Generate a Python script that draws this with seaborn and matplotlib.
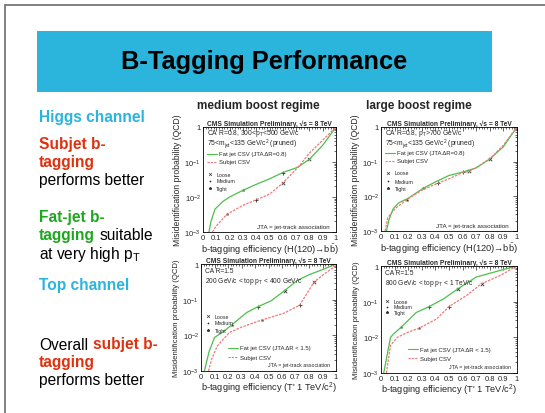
import numpy as np
import pandas as pd
import matplotlib
matplotlib.use("Agg")
import matplotlib.pyplot as plt
from matplotlib.lines import Line2D
import seaborn as sns

sns.set_style("white")
plt.rcParams['font.family'] = ['Liberation Sans', 'DejaVu Sans']
plt.rcParams['mathtext.fontset'] = 'custom'
plt.rcParams['mathtext.rm'] = 'Liberation Sans'
plt.rcParams['mathtext.it'] = 'Liberation Sans:italic'

# ---------------- data ----------------
# Panel 1: Higgs, medium boost
p1_fat_eff = [0.045, 0.06, 0.09, 0.15, 0.2, 0.3, 0.4, 0.5, 0.6, 0.7, 0.72, 0.8, 0.9, 1.0]
p1_fat_mis = [1e-3, 2.0e-3, 4.5e-3, 7.5e-3, 1.0e-2, 1.55e-2, 2.3e-2, 3.3e-2, 5e-2, 6.8e-2, 7.4e-2, 0.12, 0.3, 1.0]
p1_sub_eff = [0.07, 0.1, 0.18, 0.3, 0.4, 0.5, 0.6, 0.72, 0.8, 0.9, 1.0]
p1_sub_mis = [1e-3, 1.5e-3, 3.2e-3, 5.8e-3, 8.3e-3, 1.2e-2, 2.5e-2, 7.4e-2, 0.18, 0.42, 1.0]
p1_fat_wp = ([0.3, 0.6, 0.8], [1.55e-2, 5e-2, 0.12])
p1_sub_wp = ([0.18, 0.4, 0.6], [3.2e-3, 8.3e-3, 2.5e-2])

# Panel 2: Higgs, large boost
p2_fat_eff = [0.04, 0.06, 0.09, 0.13, 0.2, 0.31, 0.4, 0.5, 0.6, 0.7, 0.8, 0.9, 1.0]
p2_fat_mis = [1e-3, 2.2e-3, 4.4e-3, 6.5e-3, 8.8e-3, 1.7e-2, 2.6e-2, 4.0e-2, 5.0e-2, 6.6e-2, 0.12, 0.27, 1.0]
p2_sub_eff = [0.03, 0.05, 0.08, 0.12, 0.19, 0.3, 0.42, 0.5, 0.6, 0.65, 0.7, 0.8, 0.9, 1.0]
p2_sub_mis = [1e-3, 2.4e-3, 3.5e-3, 5.0e-3, 8e-3, 1.5e-2, 2.4e-2, 3.2e-2, 4.8e-2, 5.3e-2, 6.8e-2, 0.12, 0.3, 1.0]
p2_fat_wp = ([0.31, 0.6, 0.8], [1.7e-2, 5.0e-2, 0.12])
p2_sub_wp = ([0.19, 0.42, 0.65], [8e-3, 2.4e-2, 5.3e-2])

# Panel 3: top, 200-400 GeV
p3_fat_eff = [0.025, 0.06, 0.1, 0.17, 0.23, 0.34, 0.42, 0.52, 0.62, 0.71, 0.8, 0.88, 1.0]
p3_fat_mis = [1e-3, 3.5e-3, 8.7e-3, 1.3e-2, 2.0e-2, 4.4e-2, 6.3e-2, 9.3e-2, 0.18, 0.34, 0.5, 0.65, 1.0]
p3_sub_eff = [0.055, 0.08, 0.12, 0.21, 0.3, 0.45, 0.61, 0.73, 0.84, 0.92, 1.0]
p3_sub_mis = [1e-3, 2.2e-3, 5e-3, 1.2e-2, 1.7e-2, 2.7e-2, 4.1e-2, 7e-2, 0.32, 0.55, 0.9]
p3_fat_wp = ([0.23, 0.42, 0.62], [2.0e-2, 6.3e-2, 0.18])
p3_sub_wp = ([0.45, 0.73, 0.84], [2.7e-2, 7e-2, 0.32])

# Panel 4: top, 800 GeV - 1 TeV
p4_fat_eff = [0.02, 0.05, 0.07, 0.093, 0.147, 0.26, 0.355, 0.46, 0.566, 0.7, 0.88, 1.0]
p4_fat_mis = [1e-3, 4e-3, 1.0e-2, 1.25e-2, 1.9e-2, 5e-2, 7.3e-2, 0.12, 0.23, 0.49, 0.76, 1.0]
p4_sub_eff = [0.04, 0.07, 0.12, 0.2, 0.28, 0.41, 0.5, 0.63, 0.74, 0.88, 1.0]
p4_sub_mis = [1e-3, 6e-3, 1.0e-2, 1.4e-2, 1.8e-2, 3.3e-2, 7.3e-2, 0.15, 0.32, 0.55, 1.0]
p4_fat_wp = ([0.147, 0.355, 0.566], [1.9e-2, 7.3e-2, 0.23])
p4_sub_wp = ([0.28, 0.5, 0.74], [1.8e-2, 7.3e-2, 0.32])

x_ticks = [0, 0.1, 0.2, 0.3, 0.4, 0.5, 0.6, 0.7, 0.8, 0.9, 1]
x_tick_labels = ["0", "0.1", "0.2", "0.3", "0.4", "0.5", "0.6", "0.7", "0.8", "0.9", "1"]
y_ticks = [1e-3, 1e-2, 1e-1, 1]
y_tick_labels = ["$10^{-3}$", "$10^{-2}$", "$10^{-1}$", "1"]

GREEN = "#4cbf4c"
RED = "#f07878"
CYAN = "#2bb5dd"
TRED = "#e0300e"
TGREEN = "#1ea61e"

fig = plt.figure(figsize=(5.45, 4.14), dpi=100)
W, H = 545.0, 414.0

def rect(l, r, t, b):
    return [l / W, 1 - b / H, (r - l) / W, (b - t) / H]

# slide border
fig.add_artist(Line2D([4.5 / W, 4.5 / W], [0, 1 - 5.5 / H], color="#777777", lw=1.3))
fig.add_artist(Line2D([4.5 / W, 1], [1 - 5.5 / H, 1 - 5.5 / H], color="#777777", lw=1.3))

# banner
ban = fig.add_axes(rect(37, 492, 32, 93))
ban.set_facecolor(CYAN)
ban.set_xticks([]); ban.set_yticks([])
for s in ban.spines.values():
    s.set_visible(False)
ban.text(0.5, 0.5, "B-Tagging Performance", ha="center", va="center",
         fontsize=18.3, fontweight="bold", color="black", transform=ban.transAxes)

fig.text(258 / W, 1 - 106 / H, "medium boost regime", ha="center", va="center",
         fontsize=8.5, fontweight="bold")
fig.text(419 / W, 1 - 106 / H, "large boost regime", ha="center", va="center",
         fontsize=8.5, fontweight="bold")

# left text
fs = 11.2
def ftext(x, y, s, color="black", bold=False):
    return fig.text(x / W, 1 - y / H, s, ha="left", va="center", fontsize=fs,
                    color=color, fontweight="bold" if bold else "normal")

ftext(39, 118, "Higgs channel", CYAN, True)
ftext(39, 145, "Subjet b-", TRED, True)
ftext(39, 163, "tagging", TRED, True)
ftext(39, 181, "performs better")
ftext(39, 218, "Fat-jet b-", TGREEN, True)
ftext(39, 236, "tagging", TGREEN, True)
ftext(100, 236, "suitable")
ftext(39, 255, "at very high p$_\\mathregular{T}$")
ftext(39, 286, "Top channel", CYAN, True)
ftext(39, 345, "Overall", "black")
ftext(93, 345, "subjet b-", TRED, True)
ftext(39, 363, "tagging", TRED, True)
ftext(39, 381, "performs better")

HXL = "b-tagging efficiency (H(120)\u2192b$\\mathregular{\\bar{b}}$)"
TXL = "b-tagging efficiency (T' 1 TeV/c$^\\mathregular{2}$)"

panels = [
    dict(r=rect(203, 336, 128, 233), fat=(p1_fat_eff, p1_fat_mis), sub=(p1_sub_eff, p1_sub_mis),
         fwp=p1_fat_wp, swp=p1_sub_wp,
         info=["CA R=0.8, 300<p$_\\mathregular{T}$<500 GeV/c", "75<m$_\\mathregular{jet}$<135 GeV/c$^\\mathregular{2}$ (pruned)"],
         fatlab="Fat jet CSV (JTA \u0394R=0.8)", xl=HXL, fs_info=4.9, fs_leg=4.3, fs_jta=4.5,
         info_y=[0.945, 0.84], leg_y=[0.745, 0.67], leg_x=0.03, wp_y=[0.552, 0.486, 0.419],
         wp_x=0.05, jta=(0.95, 0.05), ylfs=6.2),
    dict(r=rect(381, 517, 128, 232), fat=(p2_fat_eff, p2_fat_mis), sub=(p2_sub_eff, p2_sub_mis),
         fwp=p2_fat_wp, swp=p2_sub_wp,
         info=["CA R=0.8, p$_\\mathregular{T}$>700 GeV/c", "75<m$_\\mathregular{jet}$<135 GeV/c$^\\mathregular{2}$ (pruned)"],
         fatlab="Fat jet CSV (JTA \u0394R=0.8)", xl=HXL, fs_info=4.9, fs_leg=4.3, fs_jta=4.5,
         info_y=[0.945, 0.84], leg_y=[0.75, 0.675], leg_x=0.03, wp_y=[0.56, 0.48, 0.41],
         wp_x=0.05, jta=(0.94, 0.05), ylfs=6.2),
    dict(r=rect(201, 336, 265, 372), fat=(p3_fat_eff, p3_fat_mis), sub=(p3_sub_eff, p3_sub_mis),
         fwp=p3_fat_wp, swp=p3_sub_wp,
         info=["CA R=1.5", "200 GeV/c < top p$_\\mathregular{T}$ < 400 GeV/c"],
         fatlab="Fat jet CSV (JTA \u0394R < 1.5)", xl=TXL, fs_info=4.8, fs_leg=4.3, fs_jta=3.8,
         info_y=[0.94, 0.85], leg_y=[0.215, 0.13], leg_x=0.2, wp_y=[0.514, 0.449, 0.383],
         wp_x=0.05, jta=(0.955, 0.065), ylfs=5.6),
    dict(r=rect(381, 517, 267, 374), fat=(p4_fat_eff, p4_fat_mis), sub=(p4_sub_eff, p4_sub_mis),
         fwp=p4_fat_wp, swp=p4_sub_wp,
         info=["CA R=1.5", "800 GeV/c < top p$_\\mathregular{T}$ < 1 TeV/c"],
         fatlab="Fat jet CSV (JTA \u0394R < 1.5)", xl=TXL, fs_info=4.8, fs_leg=4.3, fs_jta=3.8,
         info_y=[0.94, 0.85], leg_y=[0.224, 0.14], leg_x=0.2, wp_y=[0.67, 0.62, 0.57],
         wp_x=0.045, jta=(0.96, 0.065), ylfs=5.6),
]

for p in panels:
    ax = fig.add_axes(p["r"])
    df = pd.concat([
        pd.DataFrame({"eff": p["fat"][0], "mis": p["fat"][1], "tagger": p["fatlab"]}),
        pd.DataFrame({"eff": p["sub"][0], "mis": p["sub"][1], "tagger": "Subjet CSV"}),
    ])
    sns.lineplot(data=df, x="eff", y="mis", hue="tagger", style="tagger",
                 palette=[GREEN, RED], dashes=[(None, None), (2, 1)],
                 sort=False, lw=0.9, ax=ax, legend=False)
    for wp in (p["fwp"], p["swp"]):
        sns.scatterplot(x=[wp[0][0]], y=[wp[1][0]], marker="*", s=8, color="#333333", ax=ax, linewidth=0)
        sns.scatterplot(x=[wp[0][1]], y=[wp[1][1]], marker="+", s=8, color="#333333", ax=ax, linewidth=0.6)
        sns.scatterplot(x=[wp[0][2]], y=[wp[1][2]], marker="x", s=6, color="#333333", ax=ax, linewidth=0.6)
    ax.set_yscale("log")
    ax.set_xlim(0, 1)
    ax.set_ylim(1e-3, 1)
    ax.set_xticks(x_ticks)
    ax.set_xticklabels(x_tick_labels, fontsize=5.5)
    ax.set_yticks(y_ticks)
    ax.set_yticklabels(y_tick_labels, fontsize=5.5)
    ax.minorticks_on()
    ax.tick_params(which="both", direction="in", top=True, right=True, width=0.5, pad=1.5)
    ax.tick_params(which="major", length=3)
    ax.tick_params(which="minor", length=1.5)
    for s in ax.spines.values():
        s.set_linewidth(0.6)
        s.set_color("black")
    ax.set_xlabel(p["xl"], fontsize=6.7, labelpad=0)
    ax.set_ylabel("Misidentification probability (QCD)", fontsize=p["ylfs"], labelpad=2)
    ax.set_title("CMS Simulation Preliminary, \u221As = 8 TeV", fontsize=4.8,
                 fontweight="bold", pad=1.5)
    ti = dict(transform=ax.transAxes, fontsize=p["fs_info"], va="center")
    tl = dict(transform=ax.transAxes, fontsize=p["fs_leg"], va="center")
    ax.text(0.03, p["info_y"][0], p["info"][0], **ti)
    ax.text(0.03, p["info_y"][1], p["info"][1], **ti)
    lx = p["leg_x"]
    ax.plot([lx, lx + 0.075], [p["leg_y"][0]] * 2, color=GREEN, lw=0.8, transform=ax.transAxes)
    ax.text(lx + 0.09, p["leg_y"][0], p["fatlab"], **tl)
    ax.plot([lx, lx + 0.075], [p["leg_y"][1]] * 2, color=RED, lw=0.8, ls=(0, (2, 1)), transform=ax.transAxes)
    ax.text(lx + 0.09, p["leg_y"][1], "Subjet CSV", **tl)
    ax.text(p["jta"][0], p["jta"][1], "JTA = jet-track association", ha="right",
            transform=ax.transAxes, fontsize=p["fs_jta"], va="center")
    for yy, lab, mk in zip(p["wp_y"], ["Loose", "Medium", "Tight"], ["x", "+", "*"]):
        ax.plot([p["wp_x"]], [yy], marker=mk, ms=2, color="#333333", mew=0.5, transform=ax.transAxes)
        ax.text(p["wp_x"] + 0.05, yy, lab, transform=ax.transAxes, fontsize=3.8, va="center")

fig.savefig("out.png", dpi=100)
